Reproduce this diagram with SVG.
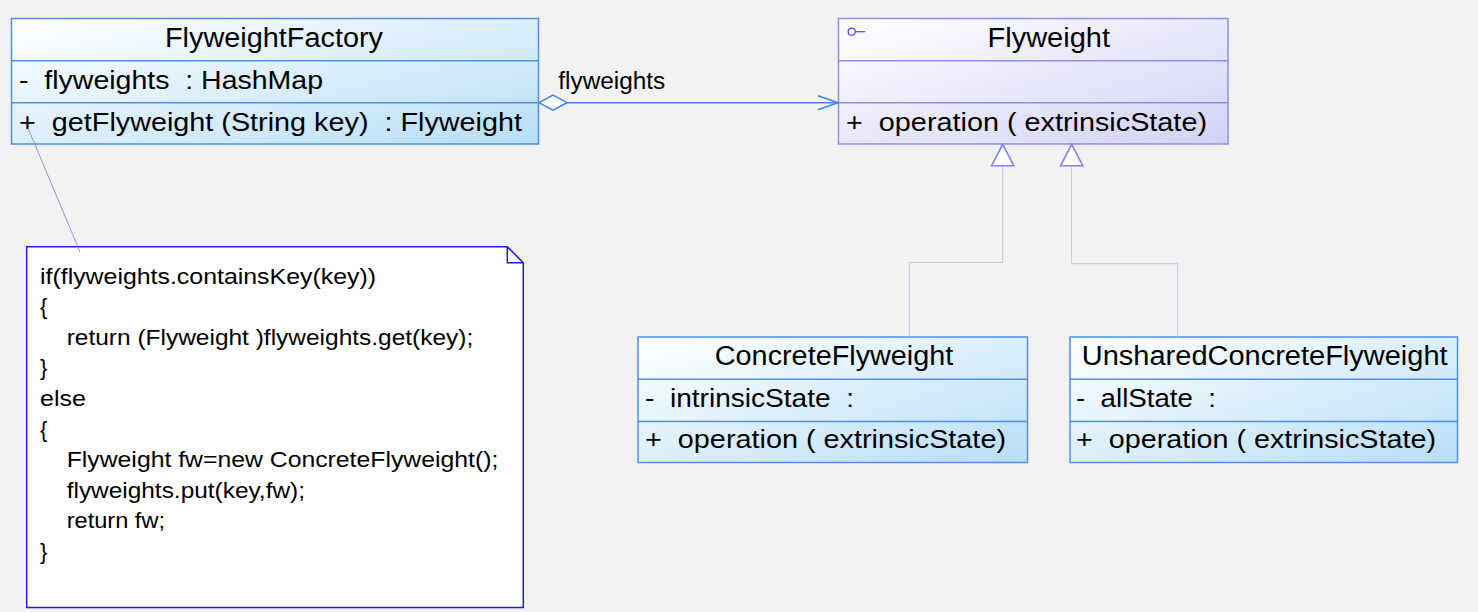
<svg xmlns="http://www.w3.org/2000/svg" width="1478" height="612" viewBox="0 0 1478 612">
<defs>
<linearGradient id="gCls" x1="0" y1="0" x2="1" y2="1">
<stop offset="0" stop-color="#ffffff"/>
<stop offset="1" stop-color="#b8def8"/>
</linearGradient>
<linearGradient id="gItf" x1="0" y1="0" x2="1" y2="1">
<stop offset="0" stop-color="#ffffff"/>
<stop offset="1" stop-color="#d2d2f6"/>
</linearGradient>
<marker id="openArrow" viewBox="0 0 22 16" refX="21" refY="8" markerWidth="22" markerHeight="16" markerUnits="userSpaceOnUse" orient="auto">
<path d="M1,1 L21,8 L1,15" fill="none" stroke="#3e86ee" stroke-width="1.5"/>
</marker>
<marker id="diamond" viewBox="0 0 32 18" refX="1" refY="9" markerWidth="32" markerHeight="18" markerUnits="userSpaceOnUse" orient="auto">
<path d="M1,9 L15,1.5 L29,9 L15,16.5 Z" fill="#ffffff" stroke="#3e86ee" stroke-width="1.5"/>
</marker>
<marker id="genTri" viewBox="0 0 26 26" refX="13" refY="1" markerWidth="26" markerHeight="26" markerUnits="userSpaceOnUse" orient="auto-start-reverse">
<path d="M13,1 L24,23 L2,23 Z" fill="#ffffff" stroke="#8282f0" stroke-width="1.6"/>
</marker>
</defs>
<style>
.t{font-family:"Liberation Sans",Arial,Helvetica,sans-serif;fill:#000000}
.hd{font-size:27px}
.row{font-size:26px}
.note{font-size:22px}
.lbl{font-size:23px}
.cls{fill:url(#gCls);stroke:#4e90f0;stroke-width:1.5}
.clsDiv{stroke:#4e90f0;stroke-width:1.5}
.itf{fill:url(#gItf);stroke:#8e8ef2;stroke-width:1.5}
.itfDiv{stroke:#8e8ef2;stroke-width:1.5}
.gen{fill:none;stroke:#c6c6f4;stroke-width:1}
</style>
<rect x="0" y="0" width="1478" height="612" fill="#f2f2f2"/>

<g id="node-flyweightfactory">
<rect class="cls" x="11.5" y="18.5" width="527" height="125.5"/>
<line class="clsDiv" x1="11.5" y1="60.7" x2="538.5" y2="60.7"/>
<line class="clsDiv" x1="11.5" y1="102.7" x2="538.5" y2="102.7"/>
<text class="t hd" x="165" y="46.7" textLength="218" lengthAdjust="spacingAndGlyphs">FlyweightFactory</text>
<text class="t row" x="19" y="88.5" xml:space="preserve" textLength="304" lengthAdjust="spacingAndGlyphs">-  flyweights  : HashMap</text>
<text class="t row" x="19" y="130.5" xml:space="preserve" textLength="503" lengthAdjust="spacingAndGlyphs">+  getFlyweight (String key)  : Flyweight</text>
</g>

<g id="node-flyweight">
<rect class="itf" x="838.5" y="18.5" width="389.5" height="125.5"/>
<line class="itfDiv" x1="838.5" y1="60.7" x2="1228" y2="60.7"/>
<line class="itfDiv" x1="838.5" y1="102.7" x2="1228" y2="102.7"/>
<circle cx="851.7" cy="31.7" r="3.5" fill="none" stroke="#4646e6" stroke-width="1.2"/>
<line x1="855.2" y1="31.7" x2="865" y2="31.7" stroke="#4646e6" stroke-width="1.2"/>
<text class="t hd" x="987.5" y="46.7" textLength="122.5" lengthAdjust="spacingAndGlyphs">Flyweight</text>
<text class="t row" x="846" y="130.5" xml:space="preserve" textLength="361" lengthAdjust="spacingAndGlyphs">+  operation ( extrinsicState)</text>
</g>

<g id="node-concreteflyweight">
<rect class="cls" x="638" y="337" width="389.5" height="125.5"/>
<line class="clsDiv" x1="638" y1="379.3" x2="1027.5" y2="379.3"/>
<line class="clsDiv" x1="638" y1="421.5" x2="1027.5" y2="421.5"/>
<text class="t hd" x="714.8" y="365" textLength="238.5" lengthAdjust="spacingAndGlyphs">ConcreteFlyweight</text>
<text class="t row" x="645" y="406.7" xml:space="preserve" textLength="209" lengthAdjust="spacingAndGlyphs">-  intrinsicState  :</text>
<text class="t row" x="645" y="448.3" xml:space="preserve" textLength="361" lengthAdjust="spacingAndGlyphs">+  operation ( extrinsicState)</text>
</g>

<g id="node-unsharedconcreteflyweight">
<rect class="cls" x="1070" y="337" width="387.5" height="125.5"/>
<line class="clsDiv" x1="1070" y1="379.3" x2="1457.5" y2="379.3"/>
<line class="clsDiv" x1="1070" y1="421.5" x2="1457.5" y2="421.5"/>
<text class="t hd" x="1081.8" y="365" textLength="365.8" lengthAdjust="spacingAndGlyphs">UnsharedConcreteFlyweight</text>
<text class="t row" x="1076" y="406.7" xml:space="preserve" textLength="140" lengthAdjust="spacingAndGlyphs">-  allState  :</text>
<text class="t row" x="1076" y="448.3" xml:space="preserve" textLength="360" lengthAdjust="spacingAndGlyphs">+  operation ( extrinsicState)</text>
</g>

<g id="node-note">
<path d="M26.7,246.7 H507.3 L523.3,262.7 V607.5 H26.7 Z" fill="#ffffff" stroke="#1c1ce0" stroke-width="1.5"/>
<path d="M507.3,246.7 V262.7 H523.3" fill="none" stroke="#1c1ce0" stroke-width="1.5"/>
<text class="t note" x="40" y="283.5" textLength="336" lengthAdjust="spacingAndGlyphs">if(flyweights.containsKey(key))</text>
<text class="t note" x="40" y="314.1">{</text>
<text class="t note" x="66.7" y="344.7" textLength="406.6" lengthAdjust="spacingAndGlyphs">return (Flyweight )flyweights.get(key);</text>
<text class="t note" x="40" y="375.3">}</text>
<text class="t note" x="40" y="405.9" textLength="46" lengthAdjust="spacingAndGlyphs">else</text>
<text class="t note" x="40" y="436.5">{</text>
<text class="t note" x="66.7" y="467.1" textLength="431.6" lengthAdjust="spacingAndGlyphs">Flyweight fw=new ConcreteFlyweight();</text>
<text class="t note" x="66.7" y="497.7" textLength="238.3" lengthAdjust="spacingAndGlyphs">flyweights.put(key,fw);</text>
<text class="t note" x="66.7" y="528.3" textLength="98.3" lengthAdjust="spacingAndGlyphs">return fw;</text>
<text class="t note" x="40" y="558.9">}</text>
</g>

<g id="connectors">
<g id="edge-aggregation">
<line x1="539" y1="102.7" x2="838" y2="102.7" stroke="#3e86ee" stroke-width="1.5" marker-start="url(#diamond)" marker-end="url(#openArrow)"/>
<text class="t lbl" x="558.3" y="89.3" textLength="107" lengthAdjust="spacingAndGlyphs">flyweights</text>
</g>
<g id="edge-gen-concrete">
<polyline class="gen" points="909.3,337 909.3,262.5 1002.7,262.5 1002.7,166"/>
<path d="M1002.7,144.3 L1013.8,165.7 L991.6,165.7 Z" fill="#ffffff" stroke="#8282f0" stroke-width="1.6"/>
</g>
<g id="edge-gen-unshared">
<polyline class="gen" points="1177.7,337 1177.7,263.7 1071.5,263.7 1071.5,166"/>
<path d="M1071.7,144.3 L1082.8,165.7 L1060.6,165.7 Z" fill="#ffffff" stroke="#8282f0" stroke-width="1.6"/>
</g>
<g id="edge-note-anchor">
<line x1="28" y1="128" x2="80" y2="252" stroke="#7a7af0" stroke-width="0.8"/>
</g>
</g>
</svg>
